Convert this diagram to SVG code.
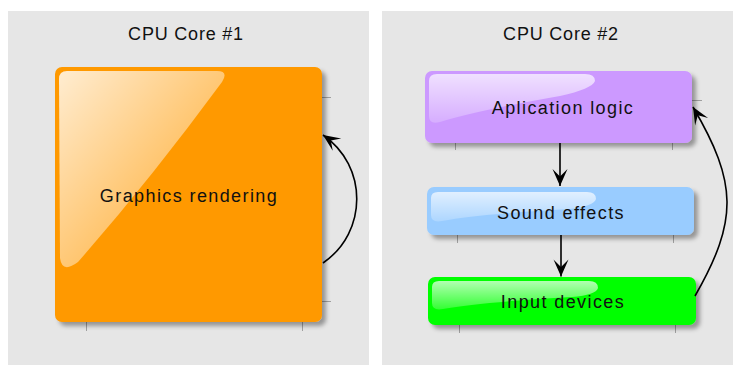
<svg xmlns="http://www.w3.org/2000/svg" width="733" height="365" viewBox="0 0 733 365">
  <defs>
    <style>
      .panel { fill: #e6e6e6; }
      .title { font-family: "Liberation Sans", Arial, sans-serif; font-size: 18px; letter-spacing: 0.8px; fill: #111; text-anchor: middle; }
      .label { font-family: "Liberation Sans", Arial, sans-serif; font-size: 18px; letter-spacing: 1.4px; fill: #111; text-anchor: middle; }
      .tick { stroke: #a0a0a0; stroke-width: 1; fill: none; }
      .edge { stroke: #000; stroke-width: 1.6; fill: none; }
      .box { filter: url(#shadow); }
    </style>
    <filter id="shadow" x="-10%" y="-10%" width="130%" height="130%">
      <feGaussianBlur in="SourceAlpha" stdDeviation="2.2"/>
      <feOffset dx="4" dy="4" result="blur"/>
      <feFlood flood-color="#000" flood-opacity="0.35"/>
      <feComposite in2="blur" operator="in"/>
      <feMerge>
        <feMergeNode/>
        <feMergeNode in="SourceGraphic"/>
      </feMerge>
    </filter>
    <linearGradient id="glossDiag" x1="0" y1="0" x2="1" y2="1">
      <stop offset="0" stop-color="#fff" stop-opacity="0.82"/>
      <stop offset="1" stop-color="#fff" stop-opacity="0.12"/>
    </linearGradient>
    <linearGradient id="glossBar" x1="0" y1="0" x2="0" y2="1">
      <stop offset="0" stop-color="#fff" stop-opacity="0.7"/>
      <stop offset="1" stop-color="#fff" stop-opacity="0.2"/>
    </linearGradient>
    <marker id="arrow" markerUnits="userSpaceOnUse" markerWidth="20" markerHeight="18" viewBox="-18 -9 20 18" refX="0" refY="0" orient="auto">
      <path d="M0,0 L-17,-7.5 L-9.5,0 L-17,7.5 Z" fill="#000"/>
    </marker>
  </defs>

  <!-- core panels -->
  <rect class="panel" x="8" y="11" width="361" height="354"/>
  <rect class="panel" x="382" y="11" width="351" height="354"/>
  <text class="title" x="186" y="40">CPU Core #1</text>
  <text class="title" x="561" y="40">CPU Core #2</text>

  <!-- Graphics rendering -->
  <g id="graphics">
    <path class="tick" d="M322,97.5 H331 M322,301.5 H331 M86.5,322 V331 M302.5,322 V331"/>
    <rect class="box" x="55" y="67" width="267" height="255" rx="7" fill="#ff9900"/>
    <path d="M59,79 Q59,71 67,71 L217,71 Q229,71 222,82 Q150,180 78,262 Q62,274 60,258 Z" fill="url(#glossDiag)"/>
    <text class="label" x="189" y="202">Graphics rendering</text>
  </g>

  <!-- Aplication logic -->
  <g id="app">
    <path class="tick" d="M692,100.5 H702 M455.5,143 V150 M672.5,143 V150"/>
    <rect class="box" x="425" y="71" width="267" height="72" rx="7" fill="#cc99ff"/>
    <path d="M429,81 Q429,74 437,74 L585,74 Q595,74 595,81 Q592,89 560,96 Q480,110 440,122 Q429,125 429,116 Z" fill="url(#glossBar)"/>
    <text class="label" x="563" y="114">Aplication logic</text>
  </g>

  <!-- Sound effects -->
  <g id="sound">
    <path class="tick" d="M457.5,235 V243 M673.5,235 V243"/>
    <rect class="box" x="427" y="187" width="267" height="48" rx="7" fill="#99ccff"/>
    <path d="M431,198 Q431,192 438,192 L587,192 Q596,192 596,199 Q594,206 570,209 Q480,214 442,221 Q431,223 431,215 Z" fill="url(#glossBar)"/>
    <text class="label" x="561" y="219">Sound effects</text>
  </g>

  <!-- Input devices -->
  <g id="input">
    <path class="tick" d="M459.5,325 V333 M675.5,325 V333"/>
    <rect class="box" x="428" y="277" width="268" height="48" rx="7" fill="#00ff00"/>
    <path d="M432,287 Q432,281 439,281 L589,281 Q598,281 598,288 Q596,295 572,297 Q482,302 443,309 Q432,311 432,303 Z" fill="url(#glossBar)"/>
    <text class="label" x="563" y="308">Input devices</text>
  </g>

  <!-- connectors -->
  <g id="edges">
    <path class="edge" d="M323,263 C368,232 368,166 323,135" marker-end="url(#arrow)"/>
    <path class="edge" d="M560,143 V186" marker-end="url(#arrow)"/>
    <path class="edge" d="M561,235 V276.5" marker-end="url(#arrow)"/>
    <path class="edge" d="M695,296 C738.5,220 737.5,183 693,107" marker-end="url(#arrow)"/>
  </g>
</svg>
